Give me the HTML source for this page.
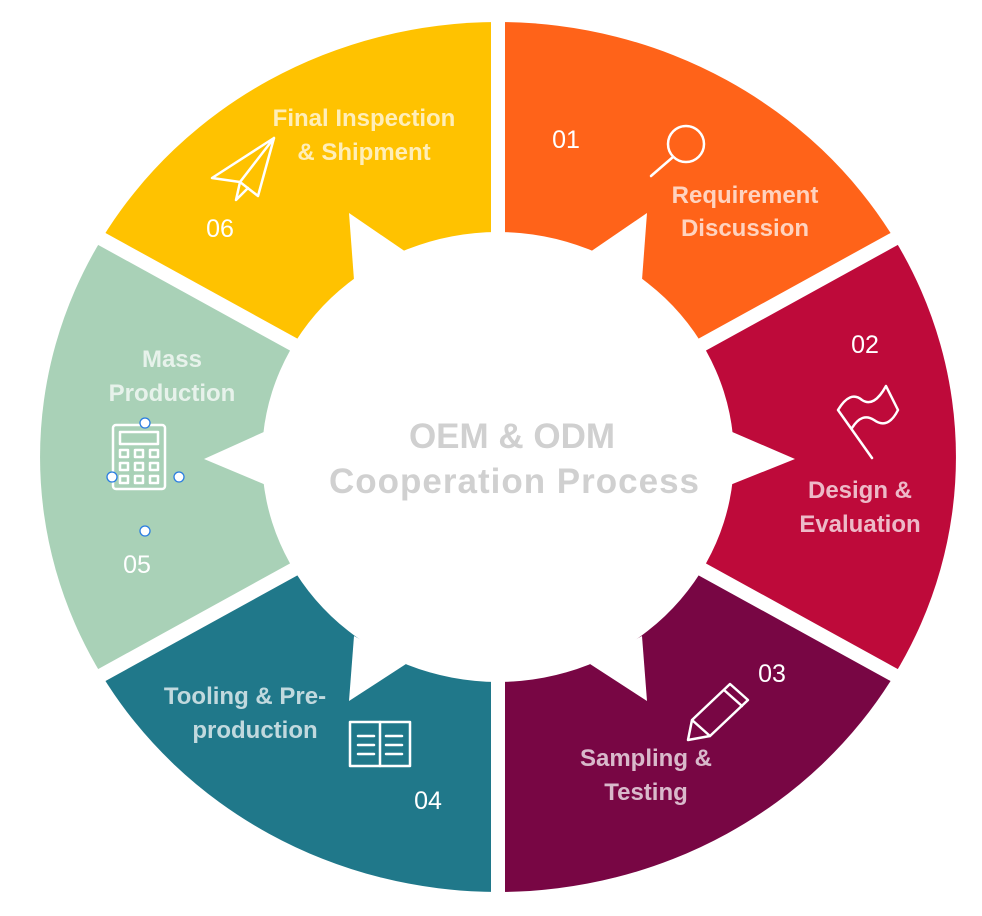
<!DOCTYPE html>
<html><head><meta charset="utf-8"><style>
html,body{margin:0;padding:0;background:#fff;}
svg{display:block;}
text{font-family:"Liberation Sans",Arial,sans-serif;}
.lb{font-weight:bold;font-size:24px;fill:rgba(255,255,255,0.72);text-anchor:middle;}
.nm{font-size:25px;fill:#fff;text-anchor:middle;}
.ic{fill:none;stroke:#fff;stroke-width:2.5;stroke-linejoin:round;stroke-linecap:round;}
</style></head><body>
<svg width="982" height="916" viewBox="0 0 982 916">
<g>
<path d="M498,457 L498,22 A458,435 0 0 1 894.6,239.5 Z" fill="#FF6319"/>
<path d="M498,457 L894.6,239.5 A458,435 0 0 1 894.6,674.5 Z" fill="#BE0A3A"/>
<path d="M498,457 L894.6,674.5 A458,435 0 0 1 498,892 Z" fill="#780644"/>
<path d="M498,457 L498,892 A458,435 0 0 1 101.4,674.5 Z" fill="#20788A"/>
<path d="M498,457 L101.4,674.5 A458,435 0 0 1 101.4,239.5 Z" fill="#A9D1B7"/>
<path d="M498,457 L101.4,239.5 A458,435 0 0 1 498,22 Z" fill="#FFC200"/>
</g>
<g stroke="#fff" stroke-width="14">
<line x1="498" y1="457" x2="498" y2="10"/>
<line x1="498" y1="457" x2="905" y2="233"/>
<line x1="498" y1="457" x2="905" y2="681"/>
<line x1="498" y1="457" x2="498" y2="905"/>
<line x1="498" y1="457" x2="91" y2="681"/>
<line x1="498" y1="457" x2="91" y2="233"/>
</g>
<g fill="#fff">
<ellipse cx="498" cy="457" rx="236" ry="225"/>
<polygon points="590,252 647,213 642,280"/>
<polygon points="730,431 795,459 730,485"/>
<polygon points="642,636 647,701 590,664"/>
<polygon points="406,664 349,701 354,636"/>
<polygon points="266,431 204,459 266,485"/>
<polygon points="354,280 349,213 406,252"/>
</g>
<text x="512" y="448" text-anchor="middle" font-weight="bold" font-size="35" fill="#d0d0d0">OEM &amp; ODM</text>
<text x="514" y="493" text-anchor="middle" font-weight="bold" font-size="35" fill="#d0d0d0" textLength="370">Cooperation Process</text>

<text class="nm" x="566" y="148">01</text>
<text class="lb" x="745" y="203">Requirement</text>
<text class="lb" x="745" y="236">Discussion</text>
<g class="ic"><circle cx="686" cy="144" r="18"/><line x1="673" y1="157" x2="651" y2="176"/></g>

<text class="nm" x="865" y="353">02</text>
<text class="lb" x="860" y="498">Design &amp;</text>
<text class="lb" x="860" y="532">Evaluation</text>
<g class="ic"><path d="M872,458 L838,410 Q850,390 862,400 Q874,408 886,386 L898,410 Q888,430 874,420 Q862,412 852,428"/></g>

<text class="nm" x="772" y="682">03</text>
<text class="lb" x="646" y="766">Sampling &amp;</text>
<text class="lb" x="646" y="800">Testing</text>
<g class="ic"><path d="M688,740 L692,720 L730,684 L748,700 L710,736 Z M692,720 L710,736 M724,690 L742,706"/></g>

<text class="nm" x="428" y="809">04</text>
<text class="lb" x="245" y="704">Tooling &amp; Pre-</text>
<text class="lb" x="255" y="738">production</text>
<g class="ic" stroke-width="2"><rect x="350" y="722" width="60" height="44"/><line x1="380" y1="722" x2="380" y2="766"/><line x1="358" y1="736" x2="374" y2="736"/><line x1="358" y1="745" x2="374" y2="745"/><line x1="358" y1="754" x2="374" y2="754"/><line x1="386" y1="736" x2="402" y2="736"/><line x1="386" y1="745" x2="402" y2="745"/><line x1="386" y1="754" x2="402" y2="754"/></g>

<text class="nm" x="137" y="573">05</text>
<text class="lb" x="172" y="367">Mass</text>
<text class="lb" x="172" y="401">Production</text>
<g class="ic" stroke-width="2"><rect x="113" y="425" width="52" height="64" rx="3"/><rect x="120" y="432" width="38" height="12"/>
<rect x="120" y="450" width="8" height="7"/><rect x="135" y="450" width="8" height="7"/><rect x="150" y="450" width="8" height="7"/>
<rect x="120" y="463" width="8" height="7"/><rect x="135" y="463" width="8" height="7"/><rect x="150" y="463" width="8" height="7"/>
<rect x="120" y="476" width="8" height="7"/><rect x="135" y="476" width="8" height="7"/><rect x="150" y="476" width="8" height="7"/></g>
<g fill="#fff" stroke="#2a7de1" stroke-width="1.3"><circle cx="145" cy="423" r="5"/><circle cx="112" cy="477" r="5"/><circle cx="179" cy="477" r="5"/><circle cx="145" cy="531" r="5"/></g>

<text class="nm" x="220" y="237">06</text>
<text class="lb" x="364" y="126" fill="rgba(255,255,255,0.8)">Final Inspection</text>
<text class="lb" x="364" y="160" fill="rgba(255,255,255,0.8)">&amp; Shipment</text>
<g class="ic" stroke-width="2"><path d="M212,178 L274,138 L258,196 L240,182 Z M240,182 L274,138 M240,182 L236,200 L248,188"/></g>
</svg>
</body></html>
